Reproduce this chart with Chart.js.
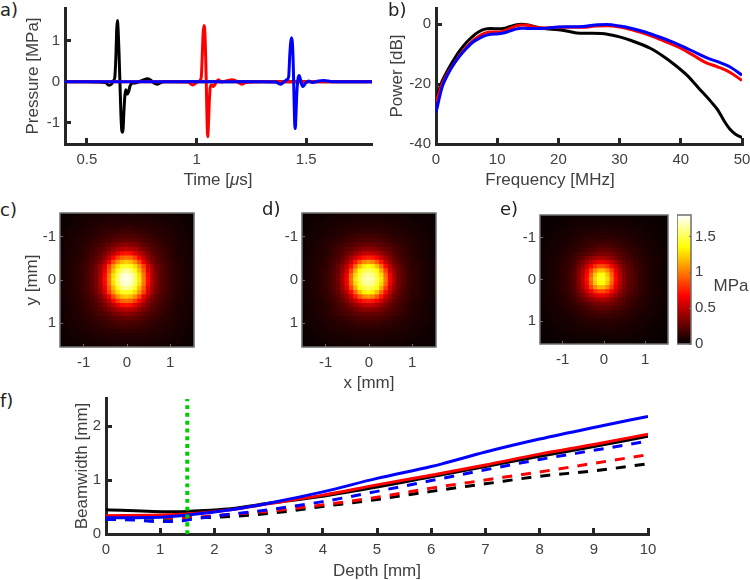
<!DOCTYPE html>
<html>
<head>
<meta charset="utf-8">
<script src="https://cdn.jsdelivr.net/npm/chart.js@4/dist/chart.umd.min.js"></script>
<style>
  body { margin: 0; background: #fff; }
  #stage { position: relative; width: 750px; height: 580px; overflow: hidden; }
  #stage canvas { position: absolute; }
  #stage canvas.map { filter: blur(0.5px); }
  .note { position: absolute; white-space: nowrap; color: #404040; font: 17px "Liberation Sans", sans-serif; transform: translate(-50%, -50%); }
  .tag { position: absolute; white-space: nowrap; color: #222; font: 18px "DejaVu Sans", sans-serif; transform: translateY(-50%); }
</style>
</head>
<body>
<div id="stage"></div>
<script>
// panel a, pressure pulses
const pulseTimeBlack = [0.4,0.5,0.56,0.585,0.6,0.612,0.62,0.627,0.632,0.636,0.639,0.642,0.647,0.651,0.655,0.659,0.662,0.665,0.669,0.673,0.677,0.681,0.685,0.69,0.697,0.705,0.72,0.74,0.76,0.775,0.79,0.805,0.82,0.835,0.85,1.8];
const pulseBlack = [0,0,-0.01,-0.02,-0.09,-0.06,0.02,0.1,0.6,1.3,1.5,1.3,0.6,-0.1,-0.8,-1.2,-1.24,-1.15,-0.7,-0.35,-0.2,-0.25,-0.3,-0.25,-0.1,-0.04,-0.03,0,0.05,0.07,0.04,-0.03,-0.06,-0.03,0,0];
const pulseTimeRed = [0.4,0.9,0.96,0.983,1,1.016,1.022,1.027,1.03,1.034,1.038,1.042,1.045,1.048,1.051,1.054,1.058,1.062,1.068,1.077,1.088,1.1,1.112,1.13,1.145,1.16,1.175,1.19,1.206,1.225,1.3,1.8];
const pulseRed = [0,0,-0.01,-0.08,-0.02,0.03,0.15,0.8,1.2,1.38,1.2,0.5,-0.2,-1,-1.35,-1.05,-0.5,-0.15,-0.08,-0.12,-0.02,0.05,-0.01,0.01,0.03,0.05,0.03,-0.02,-0.06,-0.02,0,0];
const pulseTimeBlue = [0.4,1.3,1.36,1.384,1.4,1.412,1.42,1.425,1.429,1.433,1.437,1.441,1.444,1.447,1.45,1.453,1.457,1.462,1.468,1.474,1.48,1.485,1.495,1.51,1.53,1.55,1.58,1.62,1.8];
const pulseBlue = [0,0,-0.01,-0.06,0,0.05,0.12,0.65,0.95,1.08,0.95,0.4,-0.3,-0.95,-1.15,-0.85,-0.3,0.05,0.15,0.05,-0.08,-0.12,-0.05,0.02,-0.02,0.01,0.03,0,0];
const timeTicks = [0.5, 1, 1.5];
const pressureTicks = [-1, 0, 1];

// panel b, power spectra
const freqBlack = [0,1,2,3,4,5,6,7,8,9,10,11,12,13,14,15,16,17,18,20,22,23,25,28,30,32,35,37,39,41,43,45,46,47,48,49,50];
const powerBlack = [-25,-19,-15,-11.5,-8.5,-6,-4,-2.5,-1.6,-1.4,-1.5,-1.4,-0.8,-0.2,0,-0.2,-0.7,-1.2,-1.5,-1.8,-2.5,-2.9,-3,-3.3,-4.2,-5.5,-8,-10.5,-13.5,-17,-21.5,-26,-28.5,-32,-35,-36.8,-37.8];
const freqColour = [0,1,2,3,4,5,6,7,8,9,10,11,12,13,14,15,16,18,20,22,24,26,28,30,32,34,36,38,40,42,44,46,48,50];
const powerRed = [-26,-20,-16,-13,-10,-7.5,-5.5,-4,-3,-2.6,-2.6,-2.3,-1.5,-0.6,-0.2,-0.3,-0.9,-1.2,-1,-1,-1,-0.6,-0.5,-0.9,-1.8,-3,-4.5,-6.2,-8,-10.3,-12.7,-14.2,-16,-18.8];
const powerBlue = [-29.5,-21,-16.5,-13,-10.3,-8,-6,-4.8,-3.8,-3.3,-3.2,-2.9,-2.3,-1.6,-1.3,-1.4,-1.4,-1.3,-0.9,-0.8,-0.7,-0.2,-0.1,-0.6,-1.4,-2.5,-3.9,-5.4,-7.1,-9,-11,-12.5,-14.2,-17];
const freqTicks = [0, 10, 20, 30, 40, 50];
const powerTicks = [-40, -20, 0];

// panels c, d, e: pressure maps, hundredths of a MPa, rows top to bottom
const mapAxis = [-1.5,-1.4,-1.3,-1.2,-1.1,-1,-0.9,-0.8,-0.7,-0.6,-0.5,-0.4,-0.3,-0.2,-0.1,0,0.1,0.2,0.3,0.4,0.5,0.6,0.7,0.8,0.9,1,1.1,1.2,1.3,1.4,1.5];
const mapTicks = [-1, 0, 1];
const mapC = [
[3,4,4,4,4,5,5,6,6,6,6,6,7,7,7,7,7,7,7,6,6,6,6,6,5,5,4,4,4,4,3],
[3,4,4,5,5,6,6,6,7,7,8,8,8,8,8,8,8,8,8,8,8,7,7,6,6,6,5,5,4,4,3],
[4,4,5,5,6,6,7,8,8,9,9,10,10,10,10,10,10,10,10,10,9,9,8,8,7,6,6,5,5,4,4],
[4,4,5,6,6,8,8,9,10,10,11,12,12,12,13,13,13,12,12,12,11,10,10,9,8,8,6,6,5,4,4],
[4,5,6,6,7,8,9,10,11,12,13,14,15,16,17,17,17,16,15,14,13,12,11,10,9,8,7,6,6,5,4],
[4,5,6,7,8,9,10,11,12,14,15,17,18,20,20,20,20,20,18,17,15,14,12,11,10,9,8,7,6,5,4],
[4,6,6,8,8,10,11,12,15,16,18,20,23,25,26,27,26,25,23,20,18,16,15,12,11,10,8,8,6,6,4],
[5,6,7,8,9,10,12,15,17,19,22,25,30,33,35,37,35,33,30,25,22,19,17,15,12,10,9,8,7,6,5],
[5,6,7,8,10,12,14,16,19,22,27,32,38,45,48,50,48,45,38,32,27,22,19,16,14,12,10,8,7,6,5],
[5,6,8,8,10,12,15,18,20,26,32,41,49,59,70,72,70,59,49,41,32,26,20,18,15,12,10,8,8,6,5],
[6,6,8,9,10,13,15,19,23,30,38,50,68,84,94,97,94,84,68,50,38,30,23,19,15,13,10,9,8,6,6],
[6,6,8,9,11,14,17,20,26,34,46,64,87,105,117,122,117,105,87,64,46,34,26,20,17,14,11,9,8,6,6],
[6,7,8,10,12,15,18,23,30,41,58,84,107,126,139,143,139,126,107,84,58,41,30,23,18,15,12,10,8,7,6],
[6,7,8,10,12,15,19,24,31,43,62,91,117,140,157,161,157,140,117,91,62,43,31,24,19,15,12,10,8,7,6],
[6,7,8,10,12,15,19,24,32,45,68,98,127,152,169,173,169,152,127,98,68,45,32,24,19,15,12,10,8,7,6],
[6,7,8,10,12,15,19,24,32,46,70,100,130,155,172,178,172,155,130,100,70,46,32,24,19,15,12,10,8,7,6],
[6,7,8,10,12,15,19,24,32,45,68,98,127,152,169,173,169,152,127,98,68,45,32,24,19,15,12,10,8,7,6],
[6,7,8,10,12,15,19,24,31,43,62,91,117,140,157,161,157,140,117,91,62,43,31,24,19,15,12,10,8,7,6],
[6,7,8,10,12,15,18,23,30,41,58,84,107,126,139,143,139,126,107,84,58,41,30,23,18,15,12,10,8,7,6],
[6,6,8,9,11,14,17,20,26,34,46,64,87,105,117,122,117,105,87,64,46,34,26,20,17,14,11,9,8,6,6],
[6,6,8,9,10,13,15,19,23,30,38,50,68,84,94,97,94,84,68,50,38,30,23,19,15,13,10,9,8,6,6],
[5,6,8,8,10,12,15,18,20,26,32,41,49,59,70,72,70,59,49,41,32,26,20,18,15,12,10,8,8,6,5],
[5,6,7,8,10,12,14,16,19,22,27,32,38,45,48,50,48,45,38,32,27,22,19,16,14,12,10,8,7,6,5],
[5,6,7,8,9,10,12,15,17,19,22,25,30,33,35,37,35,33,30,25,22,19,17,15,12,10,9,8,7,6,5],
[4,6,6,8,8,10,11,12,15,16,18,20,23,25,26,27,26,25,23,20,18,16,15,12,11,10,8,8,6,6,4],
[4,5,6,7,8,9,10,11,12,14,15,17,18,20,20,20,20,20,18,17,15,14,12,11,10,9,8,7,6,5,4],
[4,5,6,6,7,8,9,10,11,12,13,14,15,16,17,17,17,16,15,14,13,12,11,10,9,8,7,6,6,5,4],
[4,4,5,6,6,8,8,9,10,10,11,12,12,12,13,13,13,12,12,12,11,10,10,9,8,8,6,6,5,4,4],
[4,4,5,5,6,6,7,8,8,9,9,10,10,10,10,10,10,10,10,10,9,9,8,8,7,6,6,5,5,4,4],
[3,4,4,5,5,6,6,6,7,7,8,8,8,8,8,8,8,8,8,8,8,7,7,6,6,6,5,5,4,4,3],
[3,4,4,4,4,5,5,6,6,6,6,6,7,7,7,7,7,7,7,6,6,6,6,6,5,5,4,4,4,4,3]
];
const mapD = [
[3,3,4,4,4,4,4,5,5,5,5,6,6,6,6,6,6,6,6,6,5,5,5,5,4,4,4,4,4,3,3],
[3,4,4,4,4,5,5,6,6,6,6,6,6,7,7,7,7,7,6,6,6,6,6,6,5,5,4,4,4,4,3],
[3,4,4,5,5,6,6,6,7,7,8,8,9,9,9,9,9,9,9,8,8,7,7,6,6,6,5,5,4,4,3],
[4,4,5,5,6,6,7,8,8,9,9,9,10,10,10,10,10,10,10,9,9,9,8,8,7,6,6,5,5,4,4],
[4,4,5,6,6,7,8,9,9,10,11,12,12,13,13,13,13,13,12,12,11,10,9,9,8,7,6,6,5,4,4],
[4,5,6,6,7,8,9,9,11,12,13,14,16,16,16,17,16,16,16,14,13,12,11,9,9,8,7,6,6,5,4],
[4,5,6,6,8,9,10,11,12,14,16,17,19,20,20,21,20,20,19,17,16,14,12,11,10,9,8,6,6,5,4],
[4,6,6,7,9,9,12,13,15,17,19,21,24,26,27,27,27,26,24,21,19,17,15,13,12,9,9,7,6,6,4],
[4,6,6,8,9,10,12,15,17,20,23,27,30,34,36,37,36,34,30,27,23,20,17,15,12,10,9,8,6,6,4],
[4,5,6,8,9,10,12,16,18,22,27,33,40,45,50,52,50,45,40,33,27,22,18,16,12,10,9,8,6,5,4],
[4,6,6,8,9,11,14,17,20,26,33,43,53,66,73,76,73,66,53,43,33,26,20,17,14,11,9,8,6,6,4],
[5,6,7,9,10,12,16,19,23,30,40,54,73,91,103,108,103,91,73,54,40,30,23,19,16,12,10,9,7,6,5],
[5,6,7,9,11,12,16,20,27,36,48,69,95,117,131,137,131,117,95,69,48,36,27,20,16,12,11,9,7,6,5],
[5,6,8,9,11,13,17,22,28,40,57,84,113,137,148,152,148,137,113,84,57,40,28,22,17,13,11,9,8,6,5],
[5,6,8,9,11,14,18,23,29,43,63,95,125,146,159,163,159,146,125,95,63,43,29,23,18,14,11,9,8,6,5],
[5,6,8,9,11,14,18,23,30,44,66,98,130,150,163,168,163,150,130,98,66,44,30,23,18,14,11,9,8,6,5],
[5,6,8,9,11,14,18,23,29,43,63,95,125,146,159,163,159,146,125,95,63,43,29,23,18,14,11,9,8,6,5],
[5,6,8,9,11,13,17,22,28,40,57,84,113,137,148,152,148,137,113,84,57,40,28,22,17,13,11,9,8,6,5],
[5,6,7,9,11,12,16,20,27,36,48,69,95,117,131,137,131,117,95,69,48,36,27,20,16,12,11,9,7,6,5],
[5,6,7,9,10,12,16,19,23,30,40,54,73,91,103,108,103,91,73,54,40,30,23,19,16,12,10,9,7,6,5],
[4,6,6,8,9,11,14,17,20,26,33,43,53,66,73,76,73,66,53,43,33,26,20,17,14,11,9,8,6,6,4],
[4,5,6,8,9,10,12,16,18,22,27,33,40,45,50,52,50,45,40,33,27,22,18,16,12,10,9,8,6,5,4],
[4,6,6,8,9,10,12,15,17,20,23,27,30,34,36,37,36,34,30,27,23,20,17,15,12,10,9,8,6,6,4],
[4,6,6,7,9,9,12,13,15,17,19,21,24,26,27,27,27,26,24,21,19,17,15,13,12,9,9,7,6,6,4],
[4,5,6,6,8,9,10,11,12,14,16,17,19,20,20,21,20,20,19,17,16,14,12,11,10,9,8,6,6,5,4],
[4,5,6,6,7,8,9,9,11,12,13,14,16,16,16,17,16,16,16,14,13,12,11,9,9,8,7,6,6,5,4],
[4,4,5,6,6,7,8,9,9,10,11,12,12,13,13,13,13,13,12,12,11,10,9,9,8,7,6,6,5,4,4],
[4,4,5,5,6,6,7,8,8,9,9,9,10,10,10,10,10,10,10,9,9,9,8,8,7,6,6,5,5,4,4],
[3,4,4,5,5,6,6,6,7,7,8,8,9,9,9,9,9,9,9,8,8,7,7,6,6,6,5,5,4,4,3],
[3,4,4,4,4,5,5,6,6,6,6,6,6,7,7,7,7,7,6,6,6,6,6,6,5,5,4,4,4,4,3],
[3,3,4,4,4,4,4,5,5,5,5,6,6,6,6,6,6,6,6,6,5,5,5,5,4,4,4,4,4,3,3]
];
const mapE = [
[2,2,3,3,3,3,3,4,4,4,4,4,4,4,4,4,4,4,4,4,4,4,4,4,3,3,3,3,3,2,2],
[2,3,3,3,4,4,4,4,5,5,5,5,5,5,5,5,5,5,5,5,5,5,5,4,4,4,4,3,3,3,2],
[3,3,3,4,4,4,5,5,5,6,6,6,6,6,7,7,7,6,6,6,6,6,5,5,5,4,4,4,3,3,3],
[3,3,4,4,4,5,5,6,6,7,7,7,8,8,8,8,8,8,8,7,7,7,6,6,5,5,4,4,4,3,3],
[3,3,4,4,5,5,6,6,7,8,8,9,9,10,10,10,10,10,9,9,8,8,7,6,6,5,5,4,4,3,3],
[3,4,4,5,5,6,7,7,8,9,10,11,11,12,12,12,12,12,11,11,10,9,8,7,7,6,5,5,4,4,3],
[3,4,5,5,6,7,7,8,9,10,12,13,14,15,15,15,15,15,14,13,12,10,9,8,7,7,6,5,5,4,3],
[3,4,5,6,6,7,8,9,11,12,14,15,17,18,20,20,20,18,17,15,14,12,11,9,8,7,6,6,5,4,3],
[4,4,5,6,7,8,9,11,12,14,16,19,21,23,25,25,25,23,21,19,16,14,12,11,9,8,7,6,5,4,4],
[4,5,5,6,7,9,10,12,14,17,20,23,27,30,32,33,32,30,27,23,20,17,14,12,10,9,7,6,5,5,4],
[4,5,6,7,8,9,11,13,16,22,26,32,37,42,44,44,42,37,32,26,22,18,16,13,11,9,8,7,6,5,4],
[4,5,6,7,8,10,12,15,19,26,33,41,50,58,63,63,58,50,41,33,26,21,19,15,12,10,8,7,6,5,4],
[4,5,6,7,9,11,13,16,21,30,39,52,67,80,88,88,80,67,52,39,30,23,21,16,13,11,9,7,6,5,4],
[4,5,6,7,9,11,14,17,22,33,45,62,84,104,116,116,104,84,62,45,33,25,22,17,14,11,9,7,6,5,4],
[4,5,6,7,9,11,14,18,23,35,48,67,94,120,136,136,120,94,67,48,35,26,23,18,14,11,9,7,6,5,4],
[4,5,6,7,9,11,14,18,23,35,50,70,99,126,141,141,126,99,70,50,35,26,23,18,14,11,9,7,6,5,4],
[4,5,6,7,9,11,14,18,23,35,48,67,94,120,136,136,120,94,67,48,35,26,23,18,14,11,9,7,6,5,4],
[4,5,6,7,9,11,14,17,22,33,45,62,84,104,116,116,104,84,62,45,33,25,22,17,14,11,9,7,6,5,4],
[4,5,6,7,9,11,13,16,21,30,39,52,67,80,88,88,80,67,52,39,30,23,21,16,13,11,9,7,6,5,4],
[4,5,6,7,8,10,12,15,19,26,33,41,50,58,63,63,58,50,41,33,26,21,19,15,12,10,8,7,6,5,4],
[4,5,6,7,8,9,11,13,16,22,26,32,37,42,44,44,42,37,32,26,22,18,16,13,11,9,8,7,6,5,4],
[4,5,5,6,7,9,10,12,14,17,20,23,27,30,32,33,32,30,27,23,20,17,14,12,10,9,7,6,5,5,4],
[4,4,5,6,7,8,9,11,12,14,16,19,21,23,25,25,25,23,21,19,16,14,12,11,9,8,7,6,5,4,4],
[3,4,5,6,6,7,8,9,11,12,14,15,17,18,20,20,20,18,17,15,14,12,11,9,8,7,6,6,5,4,3],
[3,4,5,5,6,7,7,8,9,10,12,13,14,15,15,15,15,15,14,13,12,10,9,8,7,7,6,5,5,4,3],
[3,4,4,5,5,6,7,7,8,9,10,11,11,12,12,12,12,12,11,11,10,9,8,7,7,6,5,5,4,4,3],
[3,3,4,4,5,5,6,6,7,8,8,9,9,10,10,10,10,10,9,9,8,8,7,6,6,5,5,4,4,3,3],
[3,3,4,4,4,5,5,6,6,7,7,7,8,8,8,8,8,8,8,7,7,7,6,6,5,5,4,4,4,3,3],
[3,3,3,4,4,4,5,5,5,6,6,6,6,6,7,7,7,6,6,6,6,6,5,5,5,4,4,4,3,3,3],
[2,3,3,3,4,4,4,4,5,5,5,5,5,5,5,5,5,5,5,5,5,5,5,4,4,4,4,3,3,3,2],
[2,2,3,3,3,3,3,4,4,4,4,4,4,4,4,4,4,4,4,4,4,4,4,4,3,3,3,3,3,2,2]
];
const barMax = 1.8;
const barTicks = [0, 0.5, 1, 1.5];

// panel f, beamwidth against depth
const depthBlack = [0,1.2,1.5,2.3,3,4,5,6,7,8,9,10];
const widthBlack = [0.45,0.41,0.42,0.47,0.57,0.7,0.87,1.06,1.25,1.44,1.62,1.81];
const depthRed = [0,1,1.5,2.3,3,4,5,6,7,8,9,10];
const widthRed = [0.34,0.35,0.37,0.45,0.56,0.72,0.91,1.09,1.28,1.48,1.66,1.85];
const depthBlue = [0,1,1.5,2.3,3,4,5,6,6.2,7,8,9,10];
const widthBlue = [0.3,0.31,0.35,0.45,0.57,0.78,1.03,1.25,1.3,1.52,1.76,1.975,2.18];
const depthDashed = [0,0.5,1,1.3,1.5,2,3,4,5,6,7,8,9,10];
const widthBlackDashed = [0.3,0.3,0.29,0.29,0.3,0.31,0.38,0.51,0.64,0.79,0.93,1.07,1.17,1.3];
const widthRedDashed = [0.33,0.32,0.31,0.3,0.3,0.34,0.42,0.54,0.68,0.85,1,1.15,1.31,1.47];
const widthBlueDashed = [0.27,0.26,0.23,0.23,0.26,0.33,0.45,0.6,0.79,0.99,1.19,1.38,1.55,1.72];
const markerDepth = [1.5, 1.5];
const markerWidth = [0, 2.5];
const depthTicks = [0,1,2,3,4,5,6,7,8,9,10];
const beamTicks = [0, 1, 2];

const TICK_FONT = { family: "Liberation Sans", size: 15 };
const TITLE_FONT = { family: "Liberation Sans", size: 17 };
const TEXT = "#404040";
const SPINE = "#262626";
const GREY = "#6e6e6e";
const stage = document.getElementById("stage");

function hot(v) {
  const t = v / barMax;
  const r = Math.min(1, t / 0.375);
  const g = Math.max(0, Math.min(1, (t - 0.375) / 0.375));
  const b = Math.max(0, Math.min(1, (t - 0.75) / 0.25));
  return `rgb(${Math.round(r * 255)},${Math.round(g * 255)},${Math.round(b * 255)})`;
}

function line(xs, ys, colour, dash) {
  return {
    data: xs.map((x, i) => ({ x: x, y: ys[i] })),
    showLine: true,
    borderColor: colour,
    borderWidth: 3,
    borderDash: dash || [],
    pointRadius: 0,
    cubicInterpolationMode: "monotone",
  };
}

// ticks inward, like the original axes
function axis(min, max, ticks, size, opts) {
  opts = opts || {};
  const inward = opts.tick || 6;
  return {
    type: "linear",
    min: min,
    max: max,
    reverse: !!opts.reverse,
    position: opts.position,
    afterBuildTicks: (s) => { s.ticks = ticks.map((v) => ({ value: v })); },
    afterFit: (s) => {
      if (s.isHorizontal()) s.height = size; else s.width = size;
      // keep the plot box where it was asked for
      s.paddingTop = s.paddingBottom = s.paddingLeft = s.paddingRight = 0;
    },
    grid: {
      drawOnChartArea: false,
      tickLength: -inward,
      tickWidth: opts.tickWidth || 3,
      tickColor: opts.colour || SPINE,
      z: opts.frame ? 1 : -1,
    },
    border: { display: !opts.frame, color: SPINE, width: 3 },
    ticks: {
      padding: inward + (opts.gap || 5),
      font: TICK_FONT,
      color: TEXT,
      autoSkip: false,
      maxRotation: 0,
      callback: (v) => String(v),
    },
    title: opts.title ? { display: true, text: opts.title, font: TITLE_FONT, color: TEXT, padding: 0 } : { display: false },
  };
}

const framePlugin = {
  id: "frame",
  afterDraw(chart) {
    const a = chart.chartArea;
    chart.ctx.save();
    chart.ctx.strokeStyle = GREY;
    chart.ctx.lineWidth = 1.5;
    chart.ctx.strokeRect(a.left, a.top, a.width, a.height);
    chart.ctx.restore();
  },
};

function panel(plot, gap, config, cls) {
  const canvas = document.createElement("canvas");
  canvas.width = plot.w + gap.left + gap.right;
  canvas.height = plot.h + gap.top + gap.bottom;
  canvas.style.left = plot.x - gap.left + "px";
  canvas.style.top = plot.y - gap.top + "px";
  if (cls) canvas.className = cls;
  stage.appendChild(canvas);
  config.options = Object.assign({
    responsive: false,
    animation: false,
    events: [],
    layout: { autoPadding: false, padding: { top: gap.top, right: gap.padRight === undefined ? gap.right : gap.padRight, left: 0, bottom: gap.padBottom || 0 } },
    plugins: { legend: { display: false }, tooltip: { enabled: false } },
  }, config.options);
  return new Chart(canvas, config);
}

function note(cls, text, x, y) {
  const el = document.createElement("div");
  el.className = cls;
  el.innerHTML = text;
  el.style.left = x + "px";
  el.style.top = y + "px";
  stage.appendChild(el);
}

function mapPanel(rows, plot, gap, yTitle, xTitle) {
  const cells = [];
  rows.forEach((row, j) => row.forEach((v, i) => {
    cells.push({ x: mapAxis[i], y: mapAxis[j], v: v / 100 });
  }));
  panel(plot, gap, {
    type: "scatter",
    data: {
      datasets: [{
        data: cells,
        pointStyle: "rect",
        borderWidth: 0,
        pointBackgroundColor: cells.map((c) => hot(c.v)),
        // a little overlap so no seams show between cells
        pointRadius: (plot.w / rows.length / 2 + 0.7) / Math.SQRT1_2,
      }],
    },
    options: {
      scales: {
        x: axis(-1.55, 1.55, mapTicks, gap.bottom, { frame: true, tick: 3, tickWidth: 1, colour: GREY, gap: 7, title: xTitle }),
        y: axis(-1.55, 1.55, mapTicks, gap.left, { frame: true, tick: 3, tickWidth: 1, colour: GREY, gap: 4, reverse: true, title: yTitle }),
      },
    },
    plugins: [framePlugin],
  }, "map");
}

// a) datasets draw last to first, so blue goes first to sit on top
panel({ x: 65, y: 8, w: 307, h: 136 }, { left: 42, right: 3, top: 4, bottom: 28 }, {
  type: "scatter",
  data: {
    datasets: [
      line(pulseTimeBlue, pulseBlue, "#0000ff"),
      line(pulseTimeRed, pulseRed, "#ff0000"),
      line(pulseTimeBlack, pulseBlack, "#000000"),
    ],
  },
  options: {
    scales: {
      x: axis(0.4, 1.8, timeTicks, 28, { gap: 7 }),
      y: axis(-1.53, 1.81, pressureTicks, 42, { title: "Pressure [MPa]" }),
    },
  },
});

// b)
panel({ x: 436, y: 8, w: 306, h: 136 }, { left: 49, right: 8, top: 4, bottom: 28 }, {
  type: "scatter",
  data: {
    datasets: [
      line(freqColour, powerBlue, "#0000ff"),
      line(freqColour, powerRed, "#ff0000"),
      line(freqBlack, powerBlack, "#000000"),
    ],
  },
  options: {
    scales: {
      x: axis(0, 50, freqTicks, 28, { gap: 7 }),
      y: axis(-40, 5.45, powerTicks, 49, { title: "Power [dB]" }),
    },
  },
});

// c) d) e)
mapPanel(mapC, { x: 60, y: 213, w: 134, h: 134 }, { left: 38, right: 4, top: 4, bottom: 28 }, "y [mm]");
mapPanel(mapD, { x: 302, y: 213, w: 134, h: 134 }, { left: 30, right: 4, top: 4, bottom: 47 }, null, "x [mm]");
mapPanel(mapE, { x: 540, y: 215, w: 128, h: 129 }, { left: 30, right: 4, top: 4, bottom: 28 });

// colour bar, its axis sits inside the canvas on the right
panel({ x: 677, y: 215, w: 14, h: 129 }, { left: 0, right: 34, padRight: 0, top: 4, bottom: 12, padBottom: 12 }, {
  type: "bar",
  data: {
    labels: ["MPa"],
    datasets: [{
      data: [barMax],
      barPercentage: 1,
      categoryPercentage: 1,
      backgroundColor: (ctx) => {
        const area = ctx.chart.chartArea;
        if (!area) return "#000";
        const g = ctx.chart.ctx.createLinearGradient(0, area.bottom, 0, area.top);
        g.addColorStop(0, "#000000");
        g.addColorStop(0.375, "#ff0000");
        g.addColorStop(0.75, "#ffff00");
        g.addColorStop(1, "#ffffff");
        return g;
      },
    }],
  },
  options: {
    scales: {
      x: { display: false },
      y: axis(0, barMax, barTicks, 34, { frame: true, tick: 2, tickWidth: 1, colour: GREY, gap: 4, position: "right" }),
    },
  },
  plugins: [framePlugin],
});

// f)
panel({ x: 106, y: 398, w: 542, h: 136 }, { left: 34, right: 14, top: 4, bottom: 48 }, {
  type: "scatter",
  data: {
    datasets: [
      Object.assign(line(markerDepth, markerWidth, "#00cc00", [4, 3.8]), { borderWidth: 4 }),
      line(depthBlue, widthBlue, "#0000ff"),
      line(depthRed, widthRed, "#ff0000"),
      line(depthBlack, widthBlack, "#000000"),
      line(depthDashed, widthBlueDashed, "#0000ff", [10, 9]),
      line(depthDashed, widthRedDashed, "#ff0000", [10, 9]),
      line(depthDashed, widthBlackDashed, "#000000", [10, 9]),
    ],
  },
  options: {
    scales: {
      x: axis(0, 10, depthTicks, 48, { gap: 7, title: "Depth [mm]" }),
      y: axis(0, 2.52, beamTicks, 34, { title: "Beamwidth [mm]" }),
    },
  },
});

note("note", "Time [<i>μ</i>s]", 218, 180);
note("note", "Frequency [MHz]", 550, 180);
note("note", "MPa", 731, 286);
note("tag", "a)", 0, 9);
note("tag", "b)", 388, 9);
note("tag", "c)", 0, 209);
note("tag", "d)", 262, 208);
note("tag", "e)", 500, 208);
note("tag", "f)", 0, 400);
</script>
</body>
</html>
